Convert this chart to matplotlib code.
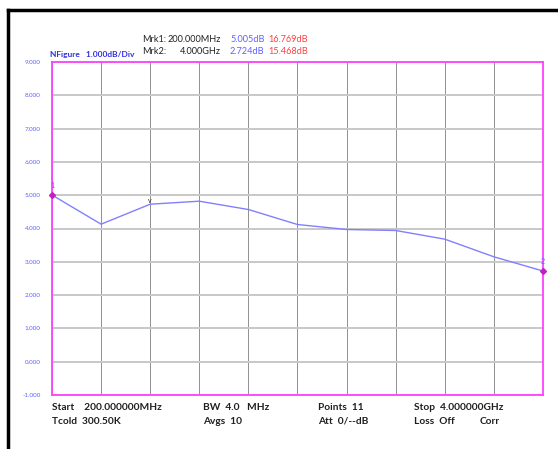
import numpy as np
import matplotlib.pyplot as plt
from matplotlib.lines import Line2D

plt.rcParams['font.family'] = ['Lato', 'DejaVu Sans']

# noise figure trace, 11 points from 200 MHz to 4 GHz
freq_mhz = np.linspace(200, 4000, 11)
nfig_db = [5.005, 4.13, 4.73, 4.82, 4.57, 4.12, 3.97, 3.94, 3.68, 3.15, 2.724]
y_ticks = [-1, 0, 1, 2, 3, 4, 5, 6, 7, 8, 9]

W, H = 558, 449
fig = plt.figure(figsize=(W / 100, H / 100), dpi=100)
ax = fig.add_axes([52 / W, 1 - 395 / H, (543 - 52) / W, (395 - 62) / H])

ax.plot(freq_mhz, nfig_db, color='#8080ff', lw=1.0, zorder=3)
ax.set_xlim(freq_mhz[0], freq_mhz[-1])
ax.set_ylim(y_ticks[0], y_ticks[-1])
ax.set_xticks(freq_mhz)
ax.set_yticks(y_ticks)
ax.set_xticklabels([])
ax.set_yticklabels(['%.3f' % v for v in y_ticks], fontsize=4.5, color='#6060ff')
ax.tick_params(length=0, pad=8)
ax.grid(True, axis='x', color='#909090', lw=0.7)
ax.grid(True, axis='y', color='#c8c8c8', lw=1.4)
for s in ax.spines.values():
    s.set_color('#ff40ff')
    s.set_linewidth(1.3)

# markers
ax.plot(freq_mhz[0], nfig_db[0], marker='D', ms=3, color='#c020c0', clip_on=False, zorder=5)
ax.plot(freq_mhz[-1], nfig_db[-1], marker='D', ms=3, color='#c020c0', clip_on=False, zorder=5)
ax.annotate('1', (freq_mhz[0], nfig_db[0]), xytext=(0, 5), textcoords='offset points',
            ha='center', fontsize=5, color='#6060ff', annotation_clip=False)
ax.annotate('2', (freq_mhz[-1], nfig_db[-1]), xytext=(0, 5), textcoords='offset points',
            ha='center', fontsize=5, color='#6060ff', annotation_clip=False)
ax.annotate('v', (freq_mhz[2], nfig_db[2]), xytext=(0, 1), textcoords='offset points',
            ha='center', fontsize=5, color='#303030', annotation_clip=False)

# header text
kw = dict(fontsize=6.6, va='center')
fig.text(50 / W, 1 - 55 / H, 'NFigure   1.000dB/Div', color='#3030e0', fontweight='bold',
         fontsize=6, va='center')
fig.text(142 / W, 1 - 39 / H, 'Mrk1:', color='#202020', **kw)
fig.text(142 / W, 1 - 51 / H, 'Mrk2:', color='#202020', **kw)
fig.text(221 / W, 1 - 39 / H, '200.000MHz', color='#202020', ha='right', **kw)
fig.text(221 / W, 1 - 51 / H, '4.000GHz', color='#202020', ha='right', **kw)
fig.text(230 / W, 1 - 39 / H, '5.005dB', color='#6060ff', **kw)
fig.text(230 / W, 1 - 51 / H, '2.724dB', color='#6060ff', **kw)
fig.text(268 / W, 1 - 39 / H, '16.769dB', color='#ff4040', **kw)
fig.text(268 / W, 1 - 51 / H, '15.468dB', color='#ff4040', **kw)

# footer text
fkw = dict(fontsize=7.3, color='#202020', fontweight='bold', va='center')
footer = [(52, 407, 'Start    200.000000MHz'), (52, 421, 'Tcold  300.50K'),
          (203, 407, 'BW  4.0   MHz'), (203, 421, 'Avgs  10'),
          (318, 407, 'Points  11'), (318, 421, 'Att  0/--dB'),
          (414, 407, 'Stop  4.000000GHz'), (414, 421, 'Loss  Off'),
          (480, 421, 'Corr')]
for x, y, t in footer:
    fig.text(x / W, 1 - y / H, t, **fkw)

# outer frame (top and left edges)
fig.add_artist(Line2D([8 / W, 8 / W], [0, 1 - 10 / H], color='black', lw=2.5))
fig.add_artist(Line2D([8 / W, 1], [1 - 10 / H, 1 - 10 / H], color='black', lw=2.5))

fig.savefig('out.png', dpi=100)
